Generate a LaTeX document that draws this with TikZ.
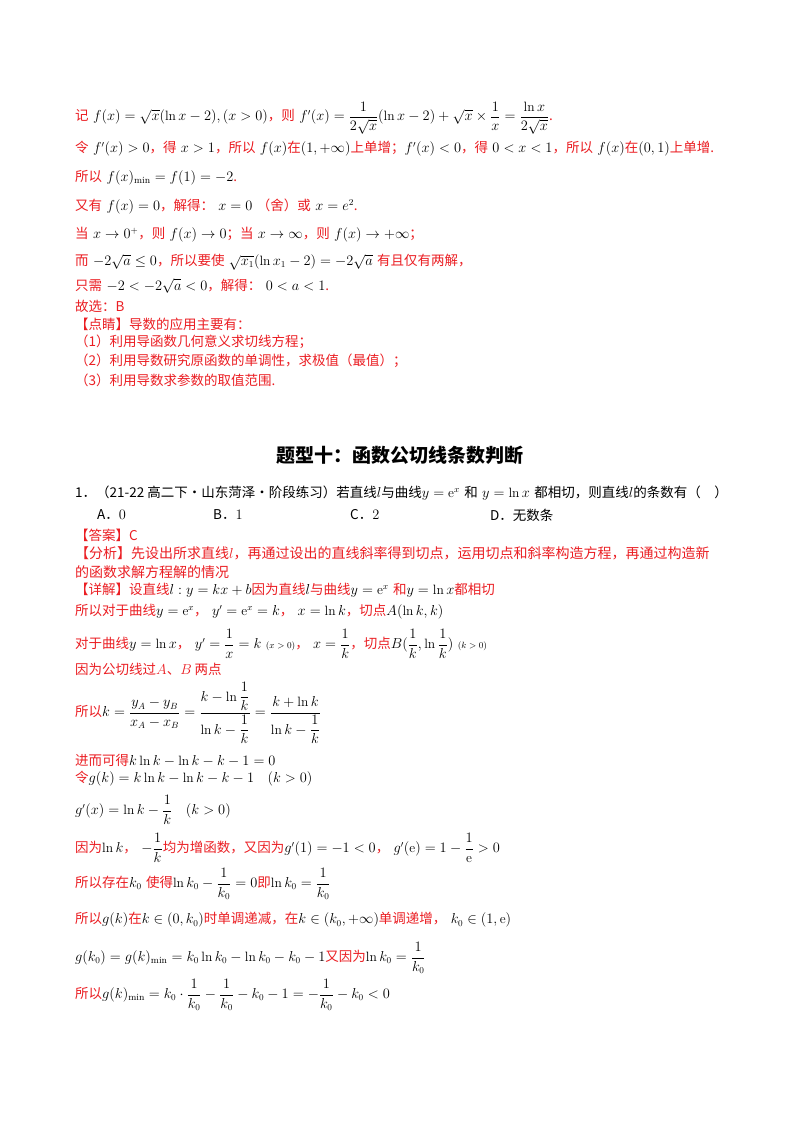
\documentclass[tikz,border=0pt]{standalone}
\usepackage{amsmath}
\usepackage{fontspec}
\newfontfamily\cjk{Noto Sans CJK SC}
\definecolor{rd}{RGB}{235,30,35}
\newcommand{\R}[1]{{\color{rd}\cjk #1}}
\newcommand{\K}[1]{{\cjk #1}}
\tikzset{ln/.style={anchor=west,inner sep=0pt,font=\fontsize{13.5}{16}\selectfont}}
\begin{document}
\begin{tikzpicture}[x=1pt,y=-1pt]
\useasboundingbox (0,0) rectangle (800,1132);
\fill[white] (0,0) rectangle (800,1132);
\node[ln] (a1) at (75,118) {\R{记} $f(x)=\sqrt{x}(\ln x-2),(x>0)$\R{，则} $f'(x)=\dfrac{1}{2\sqrt{x}}(\ln x-2)+\sqrt{x}\times\dfrac{1}{x}=\dfrac{\ln x}{2\sqrt{x}}$\R{.}};
\node[ln] (a2) at (75,149) {\R{令} $f'(x)>0$\R{，得} $x>1$\R{，所以} $f(x)$\R{在}$(1,+\infty)$\R{上单增；}$f'(x)<0$\R{，得} $0<x<1$\R{，所以} $f(x)$\R{在}$(0,1)$\R{上单增.}};
\node[ln] (a3) at (75,178) {\R{所以} $f(x)_{\min}=f(1)=-2$\R{.}};
\node[ln] (a4) at (75,207) {\R{又有} $f(x)=0$\R{，解得：} $x=0$ \R{（舍）或} $x=e^2$\R{.}};
\node[ln] (a5) at (75,235) {\R{当} $x\to0^+$\R{，则} $f(x)\to0$\R{；当} $x\to\infty$\R{，则} $f(x)\to+\infty$\R{；}};
\node[ln] (a6) at (75,262) {\R{而} $-2\sqrt{a}\le0$\R{，所以要使} $\sqrt{x_1}(\ln x_1-2)=-2\sqrt{a}$ \R{有且仅有两解，}};
\node[ln] (a7) at (75,286) {\R{只需} $-2<-2\sqrt{a}<0$\R{，解得：} $0<a<1$\R{.}};
\node[ln] (a8) at (75,306) {\R{故选：B}};
\node[ln] (a9) at (75,324) {\R{【点睛】导数的应用主要有：}};
\node[ln] (a10) at (75,342) {\R{（1）利用导函数几何意义求切线方程；}};
\node[ln] (a11) at (75,361) {\R{（2）利用导数研究原函数的单调性，求极值（最值）；}};
\node[ln] (a12) at (75,380) {\R{（3）利用导数求参数的取值范围.}};
\node[anchor=center,inner sep=0pt,font=\fontsize{19}{22}\selectfont\cjk\bfseries] (t) at (400,455) {题型十：函数公切线条数判断};
\node[ln] (b1) at (75,493) {\K{1．（21-22 高二下·山东菏泽·阶段练习）若直线}$l$\K{与曲线}$y=\mathrm{e}^x$ \K{和} $y=\ln x$ \K{都相切，则直线}$l$\K{的条数有（\quad）}};
\node[ln] (b2) at (97,515) {\K{A．}$0$};
\node[ln] (b3) at (213,515) {\K{B．}$1$};
\node[ln] (b4) at (350,515) {\K{C．}$2$};
\node[ln] (b5) at (490,515) {\K{D．无数条}};
\node[ln] (b6) at (75,535) {\R{【答案】C}};
\node[ln,font=\fontsize{14}{16}\selectfont] (b7) at (75,553) {\R{【分析】先设出所求直线}{\color{rd}$l$}\R{，再通过设出的直线斜率得到切点，运用切点和斜率构造方程，再通过构造新}};
\node[ln,font=\fontsize{14}{16}\selectfont] (b8) at (75,572) {\R{的函数求解方程解的情况}};
\node[ln] (b9) at (75,590) {\R{【详解】设直线}$l:y=kx+b$\R{因为直线}$l$\R{与曲线}$y=\mathrm{e}^x$ \R{和}$y=\ln x$\R{都相切}};
\node[ln] (b10) at (75,612) {\R{所以对于曲线}$y=\mathrm{e}^x$\R{，} $y'=\mathrm{e}^x=k$\R{，} $x=\ln k$\R{，切点}$A(\ln k,k)$};
\node[ln] (b11) at (75,644) {\R{对于曲线}$y=\ln x$\R{，} $y'=\dfrac1x=k$ {\small$(x>0)$}\R{，} $x=\dfrac1k$\R{，切点}$B(\dfrac1k,\ln\dfrac1k)$ {\small$(k>0)$}};
\node[ln] (b12) at (75,669) {\R{因为公切线过}{\color{rd}$A$}\R{、}{\color{rd}$B$}\R{ 两点}};
\node[ln] (c1) at (75,713) {\R{所以}$k=\dfrac{y_A-y_B}{x_A-x_B}=\dfrac{k-\ln\dfrac1k}{\ln k-\dfrac1k}=\dfrac{k+\ln k}{\ln k-\dfrac1k}$};
\node[ln] (c2) at (75,760) {\R{进而可得}$k\ln k-\ln k-k-1=0$};
\node[ln] (c3) at (75,779) {\R{令}$g(k)=k\ln k-\ln k-k-1\quad{\small(k>0)}$};
\node[ln] (c4) at (75,810) {$g'(x)=\ln k-\dfrac1k\quad{\small(k>0)}$};
\node[ln] (c5) at (75,848) {\R{因为}$\ln k$\R{，} $-\dfrac1k$\R{均为增函数，又因为}$g'(1)=-1<0$\R{，} $g'(\mathrm{e})=1-\dfrac{1}{\mathrm{e}}>0$};
\node[ln] (c6) at (75,884) {\R{所以存在}$k_0$ \R{使得}$\ln k_0-\dfrac1{k_0}=0$\R{即}$\ln k_0=\dfrac1{k_0}$};
\node[ln] (c7) at (75,920) {\R{所以}$g(k)$\R{在}$k\in(0,k_0)$\R{时单调递减，在}$k\in(k_0,+\infty)$\R{单调递增，} $k_0\in(1,\mathrm{e})$};
\node[ln] (c8) at (75,958) {$g(k_0)=g(k)_{\min}=k_0\ln k_0-\ln k_0-k_0-1$\R{又因为}$\ln k_0=\dfrac1{k_0}$};
\node[ln] (c9) at (75,995) {\R{所以}$g(k)_{\min}=k_0\cdot\dfrac1{k_0}-\dfrac1{k_0}-k_0-1=-\dfrac1{k_0}-k_0<0$};
\end{tikzpicture}
\end{document}
